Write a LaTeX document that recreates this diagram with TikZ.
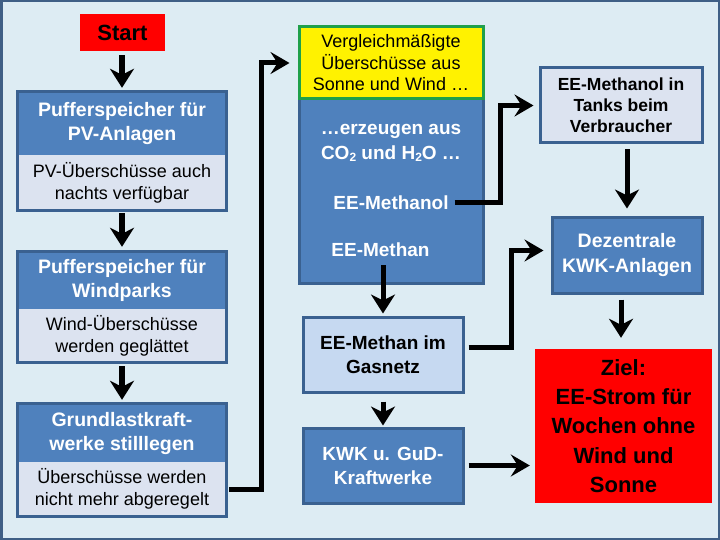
\documentclass[tikz,border=0pt]{standalone}
\usepackage{fontspec}
\setmainfont{Liberation Sans}
\usetikzlibrary{arrows.meta}
\definecolor{bg}{HTML}{DDECF3}
\definecolor{framec}{HTML}{3F5F85}
\definecolor{dblue}{HTML}{4F81BD}
\definecolor{bord}{HTML}{3A6190}
\definecolor{lightp}{HTML}{DCE3F0}
\definecolor{gasf}{HTML}{C6D9F1}
\definecolor{greenb}{HTML}{1FA04A}
\newcommand{\subtwo}{\raisebox{-2pt}{\fontsize{12}{12}\selectfont 2}}
\tikzset{
  toppart/.style={inner sep=0pt, align=center, minimum width=208pt, fill=dblue, text=white,
    font=\fontsize{19.5}{24}\selectfont\bfseries},
  botpart/.style={inner sep=0pt, align=center, minimum width=208pt, fill=lightp, text=black,
    font=\fontsize{18}{22}\selectfont},
  outline/.style={draw=bord, line width=3pt},
  darkbox/.style={inner sep=0pt, align=center, fill=dblue, draw=bord, line width=3pt, text=white,
    font=\fontsize{19.5}{25}\selectfont\bfseries},
  lightbox/.style={inner sep=0pt, align=center, draw=bord, line width=3pt, text=black,
    font=\fontsize{19}{24}\selectfont\bfseries},
  wtext/.style={inner sep=0pt, align=center, text=white, font=\fontsize{19}{25}\selectfont\bfseries},
  redbox/.style={inner sep=0pt, align=center, fill=red, text=black},
  arr/.style={line width=6pt, -{Stealth[length=19pt,width=24pt,inset=6pt]}},
  conn/.style={line width=5pt, -{Stealth[length=19pt,width=22pt,inset=7pt]}}
}
\begin{document}
\begin{tikzpicture}[x=1pt,y=-1pt]
\useasboundingbox (0,0) rectangle (720,540);
\draw[draw=framec, line width=2.5pt, fill=bg] (1.25,1.25) rectangle (718.75,538.75);

% left column
\node[redbox, minimum width=85pt, minimum height=37pt, font=\fontsize{22}{26}\selectfont\bfseries] (start) at (122.5,32.5) {Start};

\node[toppart, minimum height=63pt] (b1t) at (122,123.5) {Pufferspeicher für\\PV-Anlagen};
\node[botpart, minimum height=55pt] (b1b) at (122,182.5) {PV-Überschüsse auch\\nachts verfügbar};
\draw[outline] (b1t.north west) rectangle (b1b.south east);

\node[toppart, minimum height=57pt] (b2t) at (122,280.5) {Pufferspeicher für\\Windparks};
\node[botpart, minimum height=53pt] (b2b) at (122,335.5) {Wind-Überschüsse\\werden geglättet};
\draw[outline] (b2t.north west) rectangle (b2b.south east);

\node[toppart, minimum height=58pt] (b3t) at (122,433) {Grundlastkraft-\\werke stilllegen};
\node[botpart, minimum height=54pt] (b3b) at (122,489) {Überschüsse werden\\nicht mehr abgeregelt};
\draw[outline] (b3t.north west) rectangle (b3b.south east);

\draw[arr, shorten <=4pt, shorten >=4pt] (b1t.north |- start.south) -- (b1t.north);
\draw[arr, shorten <=3pt, shorten >=5pt] (b1b.south) -- (b2t.north);
\draw[arr, shorten <=4pt, shorten >=4pt] (b2b.south) -- (b3t.north);

% middle column
\node[darkbox, minimum width=184pt, minimum height=184pt] (big) at (391,191) {};
\node[inner sep=0pt, align=center, fill=yellow, draw=greenb, line width=3pt, text=black,
  minimum width=184pt, minimum height=72pt, font=\fontsize{18}{21.5}\selectfont] (yel) at (391,63)
  {Vergleichmäßigte\\Überschüsse aus\\Sonne und Wind …};
\node[wtext] (erz) at (391,142.5) {…erzeugen aus\\CO\subtwo{} und H\subtwo{}O …};
\node[wtext] (meol) at (391,203) {EE-Methanol};
\node[wtext] (meth) at (380.5,250) {EE-Methan};

\node[lightbox, fill=gasf, minimum width=160pt, minimum height=75pt] (gas) at (383,354.5) {EE-Methan im\\Gasnetz};
\node[darkbox, minimum width=160pt, minimum height=75pt, font=\fontsize{19}{24}\selectfont\bfseries] (kwk) at (383,465.5) {KWK u. GuD-\\Kraftwerke};

\draw[conn, shorten >=8pt] ([xshift=3pt]b3b.east) -| ([xshift=-36pt]yel.west) -- (yel.west);

\draw[arr, line width=5pt, shorten <=8pt, shorten >=2pt] (gas.north |- meth.south) -- (gas.north);
\draw[arr, line width=5pt, shorten <=8pt, shorten >=1pt] (gas.south) -- (kwk.north);

% right column
\node[lightbox, fill=lightp, minimum width=162pt, minimum height=75pt, font=\fontsize{17.5}{21}\selectfont\bfseries] (tank) at (621,105.5) {EE-Methanol in\\Tanks beim\\Verbraucher};
\node[darkbox, minimum width=150pt, minimum height=75pt] (dez) at (627,255.5) {Dezentrale\\KWK-Anlagen};
\node[redbox, minimum width=177pt, minimum height=154pt, font=\fontsize{22}{29.3}\selectfont\bfseries] (ziel) at (623.5,426)
  {Ziel:\\EE-Strom für\\Wochen ohne\\Wind und\\Sonne};

\draw[conn, shorten >=5pt] ([xshift=6pt]meol.east) -| ([xshift=-38pt]tank.west) -- (tank.west);
\draw[conn, shorten >=7pt] ([xshift=4pt,yshift=7pt]gas.east) -| ([xshift=-39pt,yshift=5pt]dez.west) -- ([yshift=5pt]dez.west);
\draw[conn, shorten <=4pt, shorten >=5pt] (kwk.east) -- (kwk.east -| ziel.west);

\draw[arr, line width=5pt, shorten <=5pt, shorten >=8pt] (dez.north |- tank.south) -- (dez.north);
\draw[arr, line width=5pt, shorten <=5pt, shorten >=11pt] ([xshift=-2.5pt]ziel.north |- dez.south) -- ([xshift=-2.5pt]ziel.north);
\end{tikzpicture}
\end{document}
